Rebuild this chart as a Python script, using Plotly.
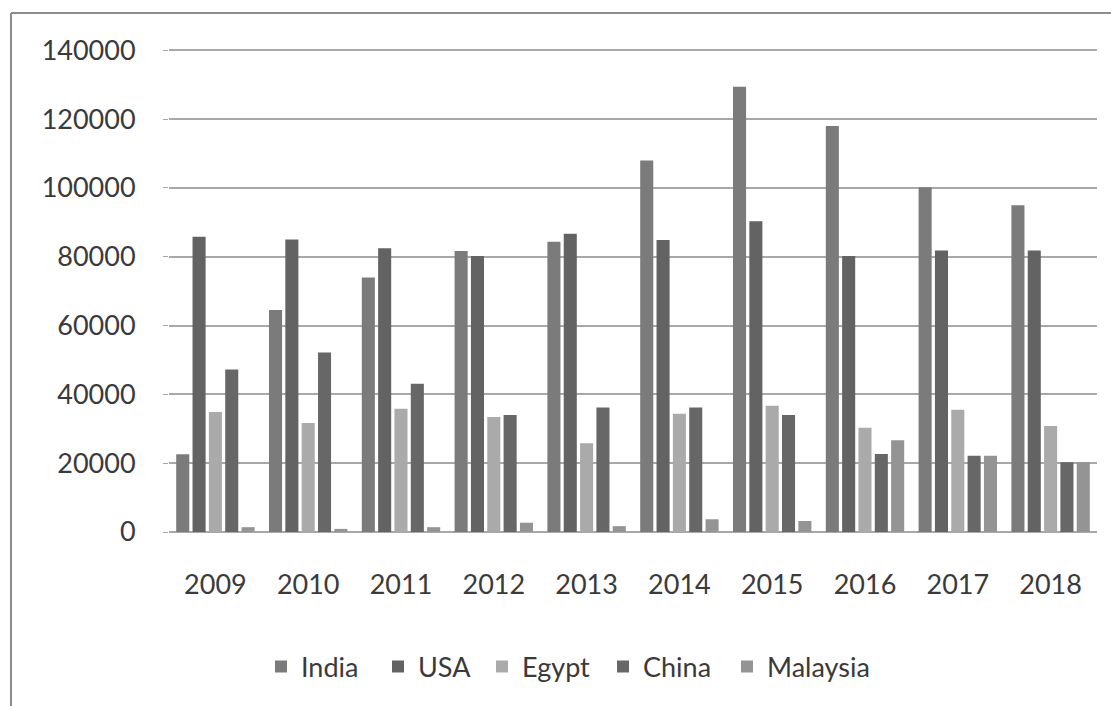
import plotly.graph_objects as go

# Yearly values per country
years = ["2009", "2010", "2011", "2012", "2013", "2014", "2015", "2016", "2017", "2018"]
india = [22600, 64500, 74000, 81700, 84400, 108000, 129400, 118000, 100200, 95000]
usa = [85800, 85000, 82500, 80200, 86700, 84900, 90300, 80200, 81800, 81800]
egypt = [34900, 31700, 35800, 33400, 25800, 34400, 36700, 30300, 35500, 30800]
china = [47200, 52200, 43100, 34000, 36200, 36200, 34000, 22700, 22200, 20300]
malaysia = [1400, 900, 1400, 2700, 1700, 3700, 3200, 26700, 22200, 20300]

y_ticks = [0, 20000, 40000, 60000, 80000, 100000, 120000, 140000]
y_top = 140400

series = [
    ("India", india, "#7b7b7b"),
    ("USA", usa, "#636363"),
    ("Egypt", egypt, "#aaaaaa"),
    ("China", china, "#676767"),
    ("Malaysia", malaysia, "#949494"),
]

W, H = 1111, 706
L, R, T, B = 169, 14, 49, 174
pw, ph = W - L - R, H - T - B

# left edge (px) of each legend entry along the bottom row
legend_left = [261, 378, 482, 603, 727]

def px_x(p):
    return (p - L) / pw

def px_y(p):
    return (H - B - p) / ph

font = dict(family="Lato, 'Open Sans', sans-serif", size=27, color="#3a3a3a")

fig = go.Figure()
legend_layout = {}
for i, (name, vals, color) in enumerate(series):
    key = "legend" if i == 0 else f"legend{i + 1}"
    fig.add_trace(go.Bar(x=years, y=vals, name=name, legend=key,
                         marker=dict(color=color, line=dict(width=0))))
    legend_layout[key] = dict(orientation="h", x=px_x(legend_left[i]), xanchor="left",
                              y=px_y(667), yanchor="middle", font=font, itemwidth=30,
                              bgcolor="rgba(0,0,0,0)")

# Chart frame: top and left edges
frame = dict(color="#8c8c8c", width=2)
fig.add_shape(type="line", xref="paper", yref="paper",
              x0=px_x(11), x1=px_x(W + 5), y0=px_y(13), y1=px_y(13), line=frame)
fig.add_shape(type="line", xref="paper", yref="paper",
              x0=px_x(11), x1=px_x(11), y0=px_y(13), y1=px_y(H + 5), line=frame)

fig.update_layout(
    width=W, height=H,
    margin=dict(l=L, r=R, t=T, b=B),
    paper_bgcolor="white", plot_bgcolor="white",
    barmode="group", bargap=0.12, bargroupgap=0.2,
    font=font,
    showlegend=True,
    xaxis=dict(type="category", showgrid=False, showline=False, ticks="",
               ticklabelstandoff=34, tickfont=font),
    yaxis=dict(range=[0, y_top], tickvals=y_ticks, ticktext=[str(v) for v in y_ticks],
               showgrid=True, gridcolor="#a8a8a8", gridwidth=1.5,
               zeroline=True, zerolinecolor="#a8a8a8", zerolinewidth=1.5,
               showline=False, ticks="outside", ticklen=5, tickcolor="#a8a8a8",
               ticklabelstandoff=22, tickfont=font),
    **legend_layout,
)

fig.write_html("out.html")
